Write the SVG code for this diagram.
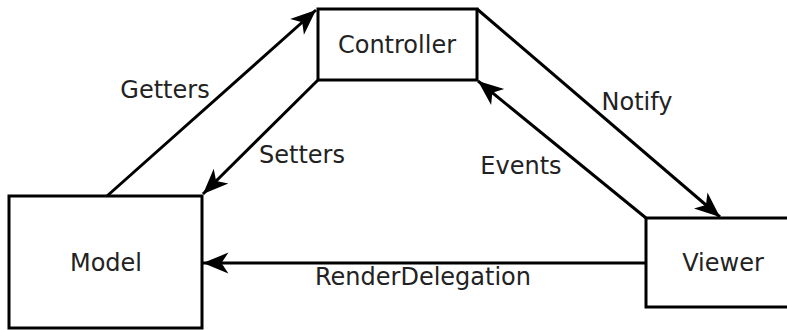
<svg xmlns="http://www.w3.org/2000/svg" width="787" height="330" viewBox="0 0 787 330">
<style>
.box{fill:#fff;stroke:#000;stroke-width:3}
.lbl{font-family:"DejaVu Sans",sans-serif;font-size:24px;fill:#222;text-anchor:middle}
.conn{stroke:#000;stroke-width:3;fill:none;marker-end:url(#ah)}
</style>
<defs>
<marker id="ah" markerUnits="userSpaceOnUse" markerWidth="30" markerHeight="30" viewBox="-24 -12 26 24" refX="0" refY="0" orient="auto">
<path d="M0,0 L-22,-9 L-16,0 L-22,9 Z" fill="#000"/>
</marker>
</defs>
<g id="connectors">
<line class="conn" x1="107" y1="196" x2="316" y2="10"/>
<line class="conn" x1="318" y1="80" x2="203" y2="194"/>
<line class="conn" x1="477" y1="9" x2="720" y2="217"/>
<line class="conn" x1="646" y1="218" x2="478" y2="81"/>
<line class="conn" x1="646" y1="263" x2="203" y2="263"/>
<text class="lbl" x="165" y="98">Getters</text>
<text class="lbl" x="302" y="163">Setters</text>
<text class="lbl" x="637" y="110">Notify</text>
<text class="lbl" x="521" y="174">Events</text>
<text class="lbl" x="423" y="285">RenderDelegation</text>
</g>
<g id="controller">
<rect class="box" x="318" y="9" width="159" height="71"/>
<text class="lbl" x="397" y="53">Controller</text>
</g>
<g id="model">
<rect class="box" x="9" y="196" width="193" height="132"/>
<text class="lbl" x="106" y="271">Model</text>
</g>
<g id="viewer">
<rect class="box" x="646" y="218" width="150" height="89"/>
<text class="lbl" x="723" y="271">Viewer</text>
</g>
</svg>
